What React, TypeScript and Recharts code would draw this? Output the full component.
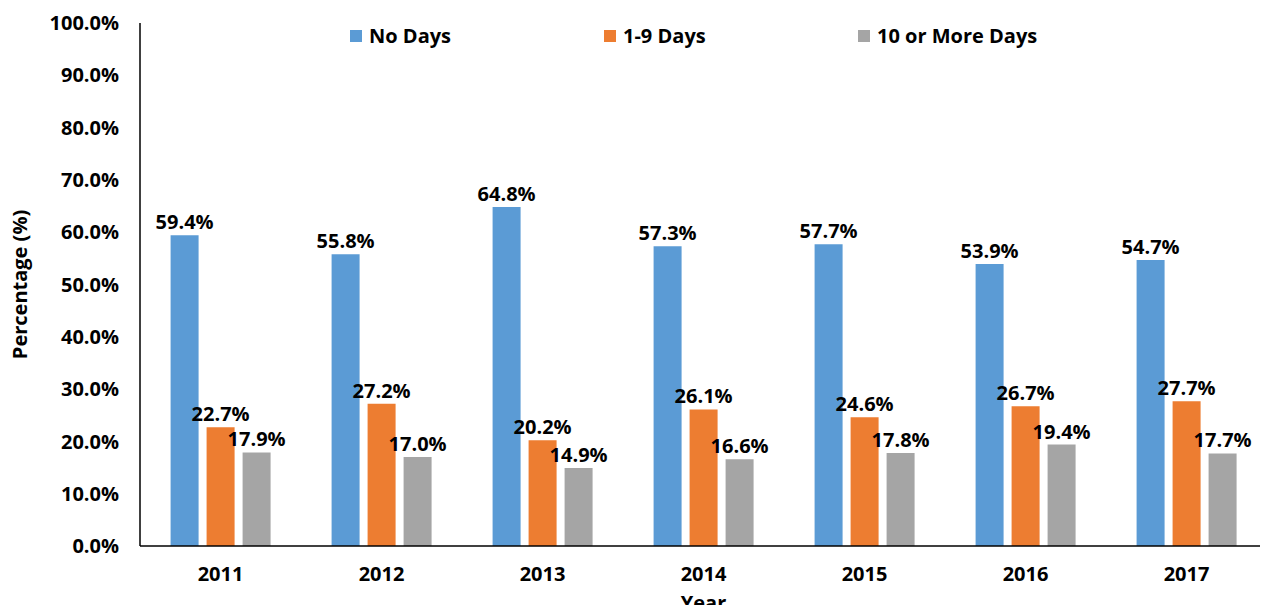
import React from "react";
import {
  BarChart,
  Bar,
  XAxis,
  YAxis,
  LabelList,
  Label,
} from "recharts";

// === values ===
const years = ["2011", "2012", "2013", "2014", "2015", "2016", "2017"];
const noDays = [59.4, 55.8, 64.8, 57.3, 57.7, 53.9, 54.7];
const oneToNine = [22.7, 27.2, 20.2, 26.1, 24.6, 26.7, 27.7];
const tenOrMore = [17.9, 17.0, 14.9, 16.6, 17.8, 19.4, 17.7];
const yTicks = [0, 10, 20, 30, 40, 50, 60, 70, 80, 90, 100];

const seriesInfo = [
  { key: "none", name: "No Days", color: "#5b9bd5" },
  { key: "some", name: "1-9 Days", color: "#ed7d31" },
  { key: "many", name: "10 or More Days", color: "#a5a5a5" },
];

const data = years.map((y, i) => ({
  year: y,
  none: noDays[i],
  some: oneToNine[i],
  many: tenOrMore[i],
}));

const FONT = "'Open Sans', sans-serif";
const textStyle = { fill: "#000", fontSize: 20, fontWeight: 700, fontFamily: FONT };

const pct = (v: any) => `${Number(v).toFixed(1)}%`;

// legend sits inside the plot area, so it's drawn on top instead of taking space
const LegendRow = () => (
  <div style={{ position: "absolute", top: 24, left: 0, width: 1268, height: 24, fontFamily: FONT, fontWeight: 700, fontSize: 20 }}>
    {seriesInfo.map((s, i) => (
      <div
        key={s.key}
        style={{ position: "absolute", left: 350 + i * 254, top: 0, display: "flex", alignItems: "center" }}
      >
        <span style={{ width: 12, height: 12, background: s.color, display: "inline-block", marginRight: 7 }} />
        <span style={{ color: "#000", whiteSpace: "nowrap", lineHeight: "24px" }}>{s.name}</span>
      </div>
    ))}
  </div>
);

export default function App() {
  return (
    <div style={{ margin: -8, width: 1268, height: 613, background: "#fff", position: "relative" }}>
      <BarChart
        width={1268}
        height={613}
        data={data}
        margin={{ top: 23, right: 1, bottom: 0, left: 0 }}
        barCategoryGap="19%"
        barGap={8}
      >
        <XAxis
          dataKey="year"
          height={67}
          tickLine={false}
          axisLine={{ stroke: "#000", strokeWidth: 1.5 }}
          tick={textStyle}
          tickMargin={15}
        >
          <Label value="Year" position="insideBottom" offset={3} style={textStyle} />
        </XAxis>
        <YAxis
          width={140}
          domain={[0, 100]}
          ticks={yTicks}
          interval={0}
          tickFormatter={pct}
          tickLine={false}
          axisLine={{ stroke: "#000", strokeWidth: 1.5 }}
          tick={textStyle}
          tickMargin={15}
        >
          <Label
            value="Percentage (%)"
            angle={-90}
            position="insideLeft"
            offset={20}
            style={{ ...textStyle, textAnchor: "middle" }}
          />
        </YAxis>
        {seriesInfo.map((s) => (
          <Bar key={s.key} dataKey={s.key} name={s.name} fill={s.color} isAnimationActive={false}>
            <LabelList dataKey={s.key} position="top" offset={6} formatter={pct} style={textStyle} />
          </Bar>
        ))}
      </BarChart>
      <LegendRow />
    </div>
  );
}
